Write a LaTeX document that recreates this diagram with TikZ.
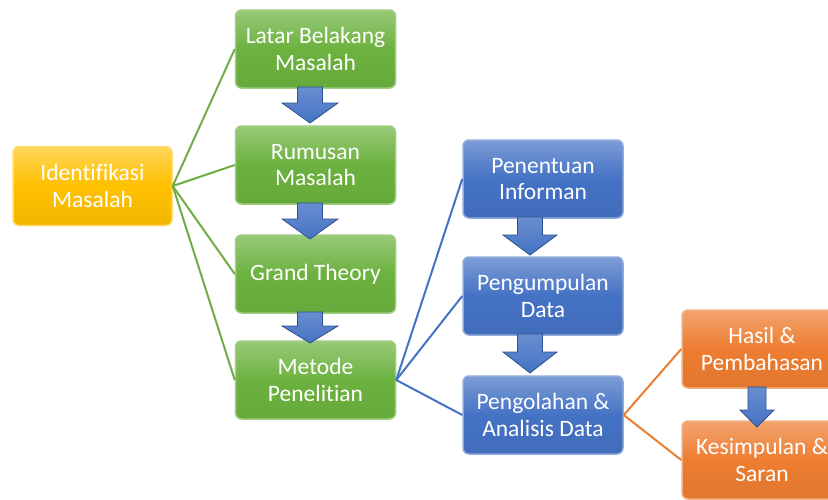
\documentclass[tikz,border=0pt]{standalone}
\usepackage{fontspec}
\setmainfont[Ligatures={NoCommon}]{Carlito}
\usetikzlibrary{calc}
\definecolor{gbase}{HTML}{6CB23F}
\definecolor{ybase}{HTML}{FFC000}
\definecolor{bbase}{HTML}{4472C4}
\definecolor{obase}{HTML}{ED7D31}
\definecolor{gline}{HTML}{70AD47}
\definecolor{bline}{HTML}{4472C4}
\definecolor{oline}{HTML}{ED7D31}
\definecolor{arrfill}{HTML}{4472C4}
\definecolor{arrdraw}{HTML}{2F528F}
\tikzset{
  boxbase/.style={rounded corners=6pt, minimum width=160pt, minimum height=78pt,
    align=center, text=white, inner sep=1pt,
    font=\fontsize{23.5}{26.5}\selectfont, line width=1.5pt},
  gbox/.style={boxbase, top color=gbase!70!white, bottom color=gbase!95!black, middle color=gbase, draw=gbase!65!white},
  ybox/.style={boxbase, top color=ybase!65!white, bottom color=ybase!95!black, middle color=ybase, draw=ybase!55!white},
  bbox/.style={boxbase, top color=bbase!70!white, bottom color=bbase!95!black, middle color=bbase, draw=bbase!60!white},
  obox/.style={boxbase, top color=obase!70!white, bottom color=obase!95!black, middle color=obase, draw=obase!60!white},
  gconn/.style={draw=gline, line width=2pt},
  bconn/.style={draw=bline, line width=2pt},
  oconn/.style={draw=oline, line width=2pt},
  blockarr/.style={top color=arrfill!80!white, bottom color=arrfill, draw=arrdraw, line width=0.8pt, line join=miter}
}
% block arrow: x-center, top, head base, tip, shaft half-width, head half-width
\newcommand\myarrow[6]{%
  \path[blockarr] (#1-#5,#2) -- (#1+#5,#2) -- (#1+#5,#3) -- (#1+#6,#3) -- (#1,#4)
    -- (#1-#6,#3) -- (#1-#5,#3) -- cycle;}
\begin{document}
\begin{tikzpicture}[x=1pt,y=-1pt]
\useasboundingbox (0,0) rectangle (828,499);
\clip (0,0) rectangle (828,499);
\fill[white] (0,0) rectangle (828,499);

\node[ybox, minimum width=159pt, minimum height=79pt] (ident) at (92.5,186) {Identifikasi\\Masalah};
\node[gbox] (latar) at (315.5,49) {Latar Belakang\\Masalah};
\node[gbox] (rumusan) at (315.5,165) {Rumusan\\Masalah};
\node[gbox] (grand) at (315.5,274) {Grand Theory};
\node[gbox] (metode) at (315.5,380) {Metode\\Penelitian};
\node[bbox] (penentuan) at (543,179) {Penentuan\\Informan};
\node[bbox] (pengumpulan) at (543,296) {Pengumpulan\\Data};
\node[bbox] (pengolahan) at (543,415) {Pengolahan \&\\Analisis Data};
\node[obox] (hasil) at (762,349) {Hasil \&\\Pembahasan};
\node[obox] (kesimpulan) at (762,460) {Kesimpulan \&\\Saran};

\draw[gconn] (ident.east) -- (latar.west);
\draw[gconn] (ident.east) -- (rumusan.west);
\draw[gconn] (ident.east) -- (grand.west);
\draw[gconn] (ident.east) -- (metode.west);
\draw[bconn] (metode.east) -- (penentuan.west);
\draw[bconn] (metode.east) -- (pengumpulan.west);
\draw[bconn] (metode.east) -- (pengolahan.west);
\draw[oconn] (pengolahan.east) -- (hasil.west);
\draw[oconn] (pengolahan.east) -- (kesimpulan.west);

% block arrows
\myarrow{310}{87}{103}{123}{12.5}{28}
\myarrow{310}{203}{219}{239}{12.5}{28}
\myarrow{310}{312}{326}{343}{12.5}{28}
\myarrow{530}{217}{235}{255}{12.5}{27}
\myarrow{530}{334}{352}{373}{12.5}{27}
\myarrow{757}{387}{410}{427}{9}{17}
\end{tikzpicture}
\end{document}
